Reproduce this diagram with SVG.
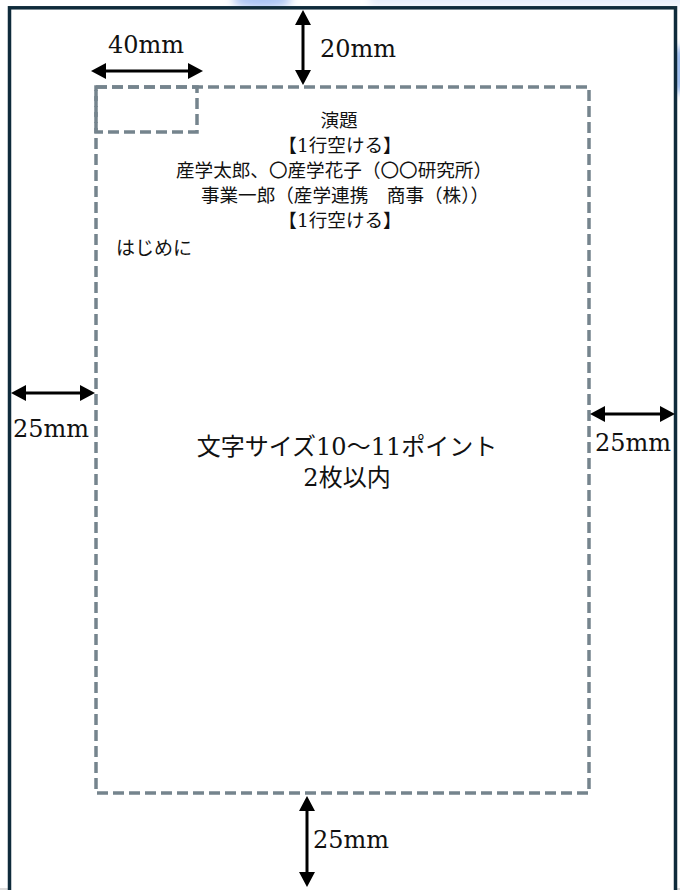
<svg xmlns="http://www.w3.org/2000/svg" width="680" height="890" viewBox="0 0 680 890">
  <style>
    .dim { font-family: "DejaVu Serif", "Liberation Serif", serif; font-size: 24px; fill: #111; }
    .jp { font-family: "DejaVu Serif", "Noto Sans CJK JP", sans-serif; fill: #111; }
    .title { font-size: 18.6px; text-anchor: middle; }
    .body { font-size: 24px; text-anchor: middle; }
    .guide { fill: none; stroke: #75848d; stroke-width: 3.5; stroke-dasharray: 11 5; }
    .arrow { stroke: #000; stroke-width: 3; marker-start: url(#ah); marker-end: url(#ah); }
  </style>
  <defs>
    <marker id="ah" viewBox="0 0 15 16" refX="11" refY="8" markerWidth="15" markerHeight="16" markerUnits="userSpaceOnUse" orient="auto-start-reverse">
      <path d="M0,0 L15,8 L0,16 z" fill="#000"/>
    </marker>
    <filter id="blur" x="-50%" y="-50%" width="200%" height="200%">
      <feGaussianBlur stdDeviation="4"/>
    </filter>
  </defs>

  <rect x="0" y="0" width="680" height="890" fill="#ffffff"/>
  <g id="background">
    <ellipse cx="262" cy="0" rx="30" ry="8" fill="#a9c3f4" filter="url(#blur)"/>
    <rect x="370" y="-10" width="320" height="16" fill="#e6edfa" filter="url(#blur)"/>
    <rect x="677" y="48" width="6" height="44" fill="#3f7fe0" filter="url(#blur)"/>
    <line x1="0" y1="889" x2="680" y2="889" stroke="#d0d0d0" stroke-width="1.5"/>
  </g>

  <g id="page">
    <rect x="9.5" y="7.8" width="666" height="900" fill="#ffffff" stroke="#0f2b3b" stroke-width="3.5"/>
  </g>

  <g id="text-area">
    <rect class="guide" x="96" y="87" width="493" height="706"/>
  </g>
  <g id="logo-area">
    <rect class="guide" x="96" y="87" width="101" height="45"/>
  </g>

  <g id="connectors">
    <line class="arrow" x1="95" y1="71" x2="199" y2="71"/>
    <line class="arrow" x1="303" y1="14" x2="303" y2="81"/>
    <line class="arrow" x1="15" y1="393" x2="91" y2="393"/>
    <line class="arrow" x1="594" y1="414" x2="671" y2="414"/>
    <line class="arrow" x1="307" y1="800" x2="307" y2="883"/>
  </g>

  <g id="labels">
    <text class="dim" x="108" y="53">40mm</text>
    <text class="dim" x="320" y="57">20mm</text>
    <text class="dim" x="13" y="437">25mm</text>
    <text class="dim" x="595" y="451">25mm</text>
    <text class="dim" x="313" y="848">25mm</text>
  </g>

  <g id="title-block" class="jp">
    <text class="title" x="339" y="127">演題</text>
    <text class="title" x="340" y="152">【1行空ける】</text>
    <text class="title" x="334" y="177">産学太郎、〇産学花子（〇〇研究所）</text>
    <text class="title" x="345" y="202">事業一郎（産学連携　商事（株））</text>
    <text class="title" x="340" y="227">【1行空ける】</text>
    <text x="116" y="255" style="font-size:19px">はじめに</text>
  </g>

  <g id="body-text" class="jp">
    <text class="body" x="347" y="455">文字サイズ10～11ポイント</text>
    <text class="body" x="347" y="486">2枚以内</text>
  </g>
</svg>
